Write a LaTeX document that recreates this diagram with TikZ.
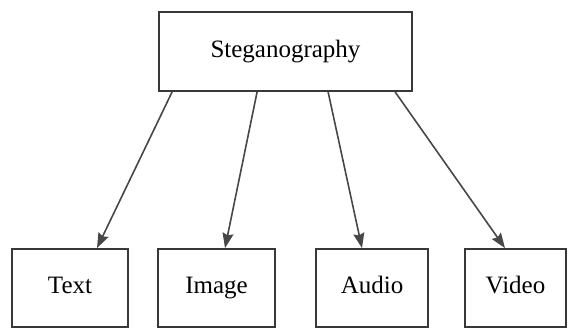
\documentclass[tikz,border=0pt]{standalone}
\usepackage{fontspec}
\setmainfont{Liberation Serif}
\usetikzlibrary{arrows.meta}

\begin{document}
\begin{tikzpicture}[x=1pt,y=-1pt,
  box/.style={rectangle,draw=black!78,line width=1.8pt,fill=white,minimum height=78pt,inner sep=0pt,text height=17pt,text depth=5pt,font=\fontsize{25}{30}\selectfont},
  link/.style={draw=black!72,line width=1.6pt,-{Stealth[length=15pt,width=11pt,inset=2pt]}}
  ]
\useasboundingbox (0,0) rectangle (568,331);

% root
\node[box,minimum width=253pt,minimum height=79pt] (steg) at (285.5,51.5) {Steganography};

% leaves
\node[box,minimum width=116pt] (text) at (70,288) {Text};
\node[box,minimum width=117pt] (image) at (216.5,288) {Image};
\node[box,minimum width=112pt] (audio) at (372,288) {Audio};
\node[box,minimum width=101pt] (video) at (515.5,288) {Video};

% arrows
\draw[link] ([xshift=14pt]steg.south west) -- ([xshift=27pt]text.north);
\draw[link] ([xshift=99pt]steg.south west) -- ([xshift=8.5pt]image.north);
\draw[link] ([xshift=170pt]steg.south west) -- ([xshift=-10pt]audio.north);
\draw[link] ([xshift=237pt]steg.south west) -- ([xshift=-10.5pt]video.north);

\end{tikzpicture}
\end{document}
